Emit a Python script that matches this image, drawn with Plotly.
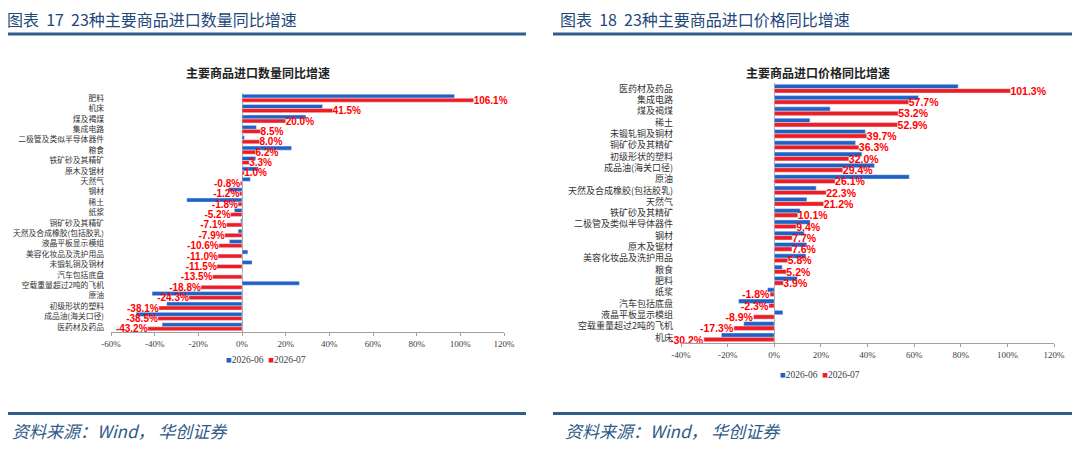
import plotly.graph_objects as go

# 进口数量同比（%）
qty_items = ["肥料", "机床", "煤及褐煤", "集成电路", "二极管及类似半导体器件", "粮食",
             "铁矿砂及其精矿", "原木及锯材", "天然气", "钢材", "稀土", "纸浆",
             "铜矿砂及其精矿", "天然及合成橡胶(包括胶乳)", "液晶平板显示模组",
             "美容化妆品及洗护用品", "未锻轧铜及铜材", "汽车包括底盘",
             "空载重量超过2吨的飞机", "原油", "初级形状的塑料", "成品油(海关口径)",
             "医药材及药品"]
qty_jun = [97.3, 36.9, 29.3, 6.6, 1.1, 22.7, 6.3, 7.5, 3.8, -6.3, -25.3, -3.5,
           -0.6, -1.8, -5.8, 2.7, 4.6, 0.2, 26.3, -41.2, -34.5, -48.5, -36.6]
qty_jul = [106.1, 41.5, 20.0, 8.5, 8.0, 6.2, 3.3, 1.0, -0.8, -1.2, -1.8, -5.2,
           -7.1, -7.9, -10.6, -11.0, -11.5, -13.5, -18.8, -24.3, -38.1, -38.5, -43.2]

# 进口价格同比（%）
price_items = ["医药材及药品", "集成电路", "煤及褐煤", "稀土", "未锻轧铜及铜材",
               "铜矿砂及其精矿", "初级形状的塑料", "成品油(海关口径)", "原油",
               "天然及合成橡胶(包括胶乳)", "天然气", "铁矿砂及其精矿",
               "二极管及类似半导体器件", "钢材", "原木及锯材", "美容化妆品及洗护用品",
               "粮食", "肥料", "纸浆", "汽车包括底盘", "液晶平板显示模组",
               "空载重量超过2吨的飞机", "机床"]
price_jun = [78.9, 61.9, 24.0, 15.3, 39.1, 34.9, 37.6, 43.0, 57.9, 18.0, 14.0,
             11.1, 15.4, 12.9, 14.0, 13.6, 3.4, 9.9, -2.9, -15.3, 3.7, -13.1, -22.7]
price_jul = [101.3, 57.7, 53.2, 52.9, 39.7, 36.3, 32.0, 29.4, 26.1, 22.3, 21.2,
             10.1, 9.4, 7.7, 7.6, 5.8, 5.2, 3.9, -1.8, -2.3, -8.9, -17.3, -30.2]

series_names = ["2026-06", "2026-07"]
x_ticks = [-60, -40, -20, 0, 20, 40, 60, 80, 100, 120]

BLUE = "#1F62C6"
RED = "#EE1C25"
NAVY = "#24487A"
LINE = "#2F5D8C"

# 页面 body 默认有 8px 外边距，图表缩小并整体平移补偿
PAD = 8
W, H = 1080 - PAD, 458 - PAD


def xp(px):
    return (px - PAD) / W


def yp(py):
    return 1 - (py - PAD) / H


fig = go.Figure()

label_font = dict(family="Liberation Sans", size=10, color="#FF0000", weight="bold")

# 左图：数量
fig.add_trace(go.Bar(y=qty_items, x=qty_jun, name=series_names[0], orientation="h",
                     marker_color=BLUE, xaxis="x", yaxis="y"))
fig.add_trace(go.Bar(y=qty_items, x=qty_jul, name=series_names[1], orientation="h",
                     marker_color=RED, xaxis="x", yaxis="y",
                     texttemplate="%{x:.1f}%", textposition="outside", textfont=label_font,
                     cliponaxis=False, constraintext="none"))

# 右图：价格
fig.add_trace(go.Bar(y=price_items, x=price_jun, name=series_names[0], orientation="h",
                     marker_color=BLUE, xaxis="x2", yaxis="y2"))
fig.add_trace(go.Bar(y=price_items, x=price_jul, name=series_names[1], orientation="h",
                     marker_color=RED, xaxis="x2", yaxis="y2",
                     texttemplate="%{x:.1f}%", textposition="outside",
                     textfont=dict(label_font, size=10.5),
                     cliponaxis=False, constraintext="none"))

xcommon = dict(tickvals=x_ticks, ticktext=[f"{v}%" for v in x_ticks], showgrid=False,
               zeroline=True, zerolinecolor="#A0A0A0", zerolinewidth=1,
               showline=True, linecolor="#A0A0A0", ticks="outside", ticklen=3,
               tickcolor="#A0A0A0", automargin=False,
               tickfont=dict(family="Liberation Serif", size=9, color="#404040"))
ycommon = dict(autorange="reversed", showgrid=False, showline=False, ticks="",
               automargin=False)

fig.update_layout(
    width=W, height=H,
    margin=dict(l=0, r=0, t=0, b=0),
    paper_bgcolor="white", plot_bgcolor="white",
    barmode="group", bargap=0.22, bargroupgap=0,
    showlegend=False,
    xaxis=dict(xcommon, range=[-60, 120], domain=[xp(111), xp(504)], anchor="y"),
    yaxis=dict(ycommon, domain=[yp(332), yp(93)], anchor="x", ticklabelstandoff=6,
               tickfont=dict(family="Noto Sans CJK SC", size=7.8, color="#333333")),
    xaxis2=dict(xcommon, range=[-40, 120], domain=[xp(681), xp(1054)], anchor="y2"),
    yaxis2=dict(ycommon, domain=[yp(343), yp(83)], anchor="x2", ticklabelstandoff=7,
                tickfont=dict(family="Noto Sans CJK SC", size=9, color="#333333")),
    font=dict(family="Noto Sans CJK SC"),
)

# 图例（小方块 + 序列名）
legend_text = "  ".join(f"<span style='color:{c}'>■</span>{n}"
                        for c, n in zip([BLUE, RED], series_names))
for xc, yc in ((266, 360), (820, 375)):
    fig.add_annotation(text=legend_text, x=xp(xc), y=yp(yc), xref="paper", yref="paper",
                       xanchor="center", yanchor="middle", showarrow=False,
                       font=dict(family="Liberation Serif", size=9.5, color="#404040"))

# 标题与来源
headers = [("图表  17  23种主要商品进口数量同比增速", 5), ("图表  18  23种主要商品进口价格同比增速", 558)]
for text, x0 in headers:
    fig.add_annotation(text=text, x=xp(x0), y=yp(19), xref="paper", yref="paper",
                       xanchor="left", yanchor="middle", showarrow=False,
                       font=dict(family="Noto Sans CJK SC", size=16, color=NAVY))

inner = [("主要商品进口数量同比增速", 258, 72), ("主要商品进口价格同比增速", 818, 73)]
for text, xc, yc in inner:
    fig.add_annotation(text="<b>" + text + "</b>", x=xp(xc), y=yp(yc), xref="paper", yref="paper",
                       xanchor="center", yanchor="middle", showarrow=False,
                       font=dict(family="Noto Sans CJK SC", size=12, color="#222222"))

for x0 in (10, 563):
    fig.add_annotation(text="资料来源：Wind， 华创证券", x=xp(x0), y=yp(430),
                       xref="paper", yref="paper", xanchor="left", yanchor="middle",
                       showarrow=False,
                       font=dict(family="Noto Sans CJK SC", size=17, color="#2E5A88", style="italic"))

for (a, b) in ((0, 526), (553, 1080)):
    for yy in (34, 413.5):
        fig.add_shape(type="line", xref="paper", yref="paper",
                      x0=xp(a), x1=xp(b), y0=yp(yy), y1=yp(yy),
                      line=dict(color=LINE, width=3))

fig.write_html("out.html")
